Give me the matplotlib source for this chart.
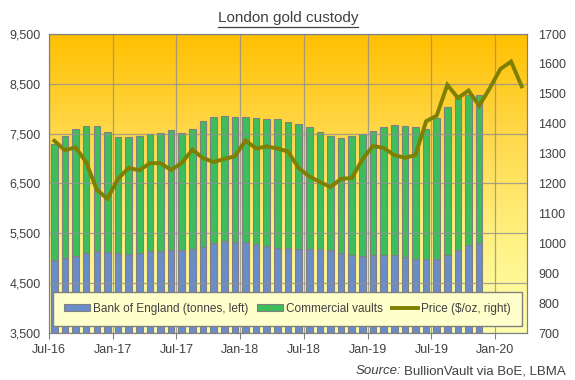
import numpy as np
import matplotlib
matplotlib.use("Agg")
import matplotlib.pyplot as plt
from matplotlib.colors import LinearSegmentedColormap
from matplotlib.lines import Line2D

plt.rcParams['font.family'] = ['Liberation Sans', 'DejaVu Sans']

# monthly categories Jul-16 .. Mar-20
months = ['Jul-16', 'Aug-16', 'Sep-16', 'Oct-16', 'Nov-16', 'Dec-16',
          'Jan-17', 'Feb-17', 'Mar-17', 'Apr-17', 'May-17', 'Jun-17',
          'Jul-17', 'Aug-17', 'Sep-17', 'Oct-17', 'Nov-17', 'Dec-17',
          'Jan-18', 'Feb-18', 'Mar-18', 'Apr-18', 'May-18', 'Jun-18',
          'Jul-18', 'Aug-18', 'Sep-18', 'Oct-18', 'Nov-18', 'Dec-18',
          'Jan-19', 'Feb-19', 'Mar-19', 'Apr-19', 'May-19', 'Jun-19',
          'Jul-19', 'Aug-19', 'Sep-19', 'Oct-19', 'Nov-19', 'Dec-19',
          'Jan-20', 'Feb-20', 'Mar-20']

# tonnes, Jul-16 .. Nov-19
boe = [4960, 5000, 5045, 5100, 5140, 5120, 5100, 5080, 5100, 5140, 5140,
       5160, 5160, 5180, 5220, 5300, 5340, 5320, 5320, 5280, 5240, 5200,
       5200, 5190, 5190, 5180, 5160, 5100, 5060, 5040, 5060, 5060, 5060,
       5020, 4980, 4980, 4980, 5060, 5160, 5260, 5300]
total = [7290, 7450, 7585, 7650, 7650, 7525, 7425, 7425, 7450, 7490, 7505,
         7565, 7505, 7585, 7745, 7825, 7845, 7825, 7825, 7805, 7785, 7785,
         7725, 7685, 7625, 7525, 7450, 7405, 7450, 7490, 7550, 7625, 7665,
         7645, 7625, 7595, 7805, 8030, 8250, 8270, 8270]
commercial = [t - b for t, b in zip(total, boe)]

# $/oz, Jul-16 .. Mar-20
price = [1343, 1311, 1321, 1271, 1179, 1149, 1216, 1252, 1244, 1268, 1268,
         1245, 1269, 1313, 1285, 1272, 1282, 1291, 1344, 1317, 1324, 1317,
         1307, 1252, 1224, 1205, 1188, 1216, 1218, 1280, 1326, 1319, 1295,
         1286, 1295, 1408, 1427, 1530, 1486, 1511, 1460, 1519, 1583, 1608,
         1525]

tick_labels = ['Jul-16', 'Jan-17', 'Jul-17', 'Jan-18', 'Jul-18', 'Jan-19',
               'Jul-19', 'Jan-20']

txt = '#404040'
fig = plt.figure(figsize=(5.75, 3.8), dpi=100)
ax = fig.add_axes([49 / 575, 47 / 380, 478 / 575, 299 / 380])

# gradient background of the plot area
cmap = LinearSegmentedColormap.from_list('bg', ['#FFFFB0', '#FFF080', '#FFD84A', '#FFC000'])
grad = np.linspace(0, 1, 256).reshape(-1, 1)
ax.imshow(grad, cmap=cmap, origin='lower', aspect='auto',
          extent=(-0.5, len(months) - 0.5, 3500, 9500), zorder=0)

x_bar = np.arange(len(boe))
ax.bar(x_bar, boe, width=0.62, color='#6A8CC8', edgecolor='#808080',
       linewidth=0.8, zorder=2, label='Bank of England (tonnes, left)')
ax.bar(x_bar, commercial, bottom=boe, width=0.62, color='#3DBE5C',
       edgecolor='#808080', linewidth=0.8, zorder=2, label='Commercial vaults')

ax.set_xlim(-0.5, len(months) - 0.5)
ax.set_ylim(3500, 9500)
ax.set_yticks(range(3500, 9501, 1000))
ax.set_yticklabels(['{:,}'.format(v) for v in range(3500, 9501, 1000)])
ticks = [months.index(m) - 0.5 for m in tick_labels]
ax.set_xticks(ticks)
ax.set_xticklabels(tick_labels)
ax.grid(True, color='#909090', linewidth=0.9, alpha=0.8, zorder=3)
ax.set_axisbelow(False)
ax.tick_params(axis='x', length=4, color='#808080', labelcolor=txt,
               labelsize=9, pad=4)
ax.tick_params(axis='y', length=0, labelcolor=txt, labelsize=9, pad=6)
for s in ax.spines.values():
    s.set_color('#808080')

ax2 = ax.twinx()
ax2.plot(np.arange(len(price)), price, color='#7F7F00', linewidth=2.8,
         solid_joinstyle='miter', label='Price ($/oz, right)', zorder=4)
ax2.set_ylim(700, 1700)
ax2.set_yticks(range(700, 1701, 100))
ax2.tick_params(axis='y', length=0, labelcolor=txt, labelsize=9, pad=8)
for s in ax2.spines.values():
    s.set_color('#808080')

h1, l1 = ax.get_legend_handles_labels()
h2, l2 = ax2.get_legend_handles_labels()
leg = ax2.legend(h1 + h2, l1 + l2, ncol=3, loc='lower center',
                 bbox_to_anchor=(0.4985, 0.023),
                 fancybox=False, framealpha=1, facecolor='#FFFFCC',
                 edgecolor='#808080', fontsize=8.5, handlelength=2.2,
                 handleheight=0.6, handletextpad=0.25, columnspacing=0.75,
                 borderpad=0.95, borderaxespad=0)
leg.get_frame().set_linewidth(1.0)
for t in leg.get_texts():
    t.set_color(txt)

title = fig.text(288 / 575, 1 - 18 / 380, 'London gold custody', ha='center',
                 va='center', fontsize=11, color=txt)
src = fig.text(566 / 575, 1 - 371 / 380, 'BullionVault via BoE, LBMA',
               ha='right', va='center', fontsize=9.5, color=txt)

fig.canvas.draw()
r = fig.canvas.get_renderer()
inv = fig.transFigure.inverted()
tb = title.get_window_extent(r).transformed(inv)
fig.add_artist(Line2D([tb.x0, tb.x1], [tb.y0 - 0.004, tb.y0 - 0.004],
                      color=txt, linewidth=0.9, transform=fig.transFigure))
sb = src.get_window_extent(r).transformed(inv)
fig.text(sb.x0 - 0.006, 1 - 371 / 380, 'Source:', ha='right', va='center',
         fontsize=9.5, color=txt, style='italic')

fig.savefig('out.png', dpi=100)
